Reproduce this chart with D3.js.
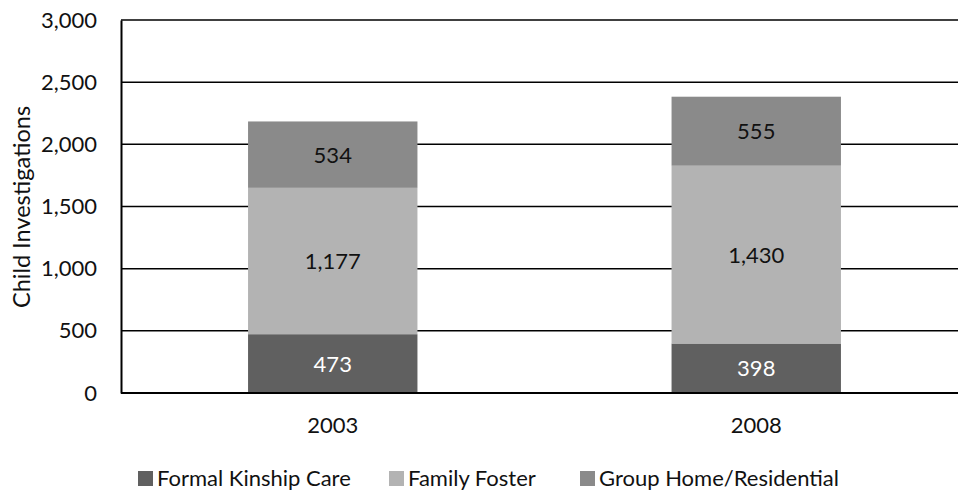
<!DOCTYPE html>
<html>
<head>
<meta charset="utf-8">
<script src="https://cdn.jsdelivr.net/npm/d3@7"></script>
<style>
  html, body { margin: 0; padding: 0; background: #fff; }
  svg { display: block; font-family: Lato, "Open Sans", sans-serif; }
</style>
</head>
<body>
<svg id="chart" width="958" height="494"></svg>
<script>
// Placement type counts by year
const years = ["2003", "2008"];
const seriesNames = ["Formal Kinship Care", "Family Foster", "Group Home/Residential"];
const kinship = [473, 398];
const foster = [1177, 1430];
const groupHome = [534, 555];
const yTicks = [0, 500, 1000, 1500, 2000, 2500, 3000];

const colors = ["#606060", "#b3b3b3", "#8a8a8a"];
const labelColors = ["#ffffff", "#111111", "#111111"];
const fontSize = 22;

const rows = years.map((yr, i) => ({
  year: yr,
  "Formal Kinship Care": kinship[i],
  "Family Foster": foster[i],
  "Group Home/Residential": groupHome[i]
}));

const svg = d3.select("#chart");
const plotLeft = 121, plotRight = 968, plotTop = 20, plotBottom = 393;

const x = d3.scaleBand().domain(years).range([plotLeft, plotRight]).padding(0);
const y = d3.scaleLinear().domain([0, 3000]).range([plotBottom, plotTop]);
const barW = x.bandwidth() * 0.4;

// gridlines
svg.append("g")
  .selectAll("line")
  .data(yTicks)
  .join("line")
  .attr("x1", plotLeft).attr("x2", plotRight)
  .attr("y1", d => y(d)).attr("y2", d => y(d))
  .attr("stroke", "#000").attr("stroke-width", 1.5);

// y axis
const yAxis = svg.append("g")
  .attr("transform", `translate(${plotLeft},0)`)
  .call(d3.axisLeft(y).tickValues(yTicks).tickFormat(d3.format(",")).tickSize(0).tickPadding(24));
yAxis.select(".domain").attr("stroke", "#000").attr("stroke-width", 2);
yAxis.selectAll("text").attr("font-size", fontSize).attr("fill", "#111").attr("font-family", "Lato, sans-serif");

// stacked bars
const stack = d3.stack().keys(seriesNames)(rows);
const groups = svg.append("g")
  .selectAll("g")
  .data(stack)
  .join("g")
  .attr("fill", (d, i) => colors[i]);

groups.selectAll("rect")
  .data(d => d)
  .join("rect")
  .attr("x", d => x(d.data.year) + (x.bandwidth() - barW) / 2)
  .attr("width", barW)
  .attr("y", d => y(d[1]))
  .attr("height", d => y(d[0]) - y(d[1]));

// segment value labels
stack.forEach((s, si) => {
  svg.append("g")
    .selectAll("text")
    .data(s)
    .join("text")
    .attr("x", d => x(d.data.year) + x.bandwidth() / 2)
    .attr("y", d => (y(d[0]) + y(d[1])) / 2)
    .attr("dy", "0.36em")
    .attr("text-anchor", "middle")
    .attr("font-size", fontSize)
    .attr("fill", labelColors[si])
    .text(d => d3.format(",")(d[1] - d[0]));
});

// baseline
svg.append("line")
  .attr("x1", plotLeft).attr("x2", plotRight)
  .attr("y1", y(0)).attr("y2", y(0))
  .attr("stroke", "#000").attr("stroke-width", 2);

// x axis labels
svg.append("g")
  .selectAll("text")
  .data(years)
  .join("text")
  .attr("x", d => x(d) + x.bandwidth() / 2)
  .attr("y", 425)
  .attr("dy", "0.36em")
  .attr("text-anchor", "middle")
  .attr("font-size", fontSize)
  .attr("fill", "#111")
  .text(d => d);

// y axis title
svg.append("text")
  .attr("transform", `translate(22,207) rotate(-90)`)
  .attr("dy", "0.36em")
  .attr("text-anchor", "middle")
  .attr("font-size", 23.5)
  .attr("fill", "#111")
  .text("Child Investigations");

// legend
const legendX = [138, 389, 580];
const legend = svg.append("g")
  .selectAll("g")
  .data(seriesNames)
  .join("g")
  .attr("transform", (d, i) => `translate(${legendX[i]},471)`);
legend.append("rect")
  .attr("width", 15).attr("height", 15)
  .attr("fill", (d, i) => colors[i]);
legend.append("text")
  .attr("x", 19).attr("y", 7.5)
  .attr("dy", "0.36em")
  .attr("font-size", fontSize)
  .attr("fill", "#111")
  .text(d => d);
</script>
</body>
</html>
